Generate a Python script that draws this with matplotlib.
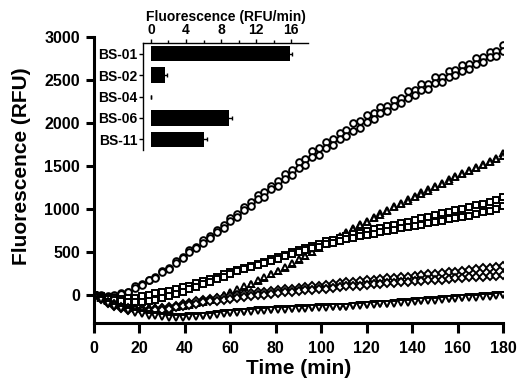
import numpy as np
import matplotlib
matplotlib.use("Agg")
import matplotlib.pyplot as plt
from matplotlib.ticker import MultipleLocator

plt.rcParams['font.family'] = ['Liberation Sans', 'DejaVu Sans']
plt.rcParams['font.weight'] = 'bold'

# time points (min), one reading every 3 min
time_min = list(range(0, 181, 3))

# BS-01 (circles), two replicates
circ_a = [0, -5, -25, -10, 15, 35, 95, 120, 175, 210, 275, 315, 395, 440, 515, 560, 640, 680, 755, 810,
          895, 940, 1025, 1080, 1155, 1195, 1270, 1325, 1410, 1455, 1540, 1585, 1670, 1705, 1780, 1815,
          1885, 1915, 1995, 2020, 2095, 2110, 2185, 2200, 2270, 2290, 2370, 2380, 2450, 2455, 2530, 2540,
          2610, 2615, 2680, 2690, 2760, 2765, 2830, 2835, 2910]
circ_b = [0, -20, -20, -30, 5, 25, 75, 110, 165, 195, 260, 300, 365, 425, 495, 540, 605, 660, 725, 780,
          855, 905, 985, 1030, 1110, 1140, 1225, 1260, 1350, 1390, 1475, 1510, 1600, 1630, 1710, 1740,
          1810, 1845, 1910, 1945, 2010, 2050, 2110, 2140, 2200, 2230, 2290, 2320, 2380, 2400, 2460, 2480,
          2540, 2560, 2610, 2630, 2690, 2710, 2770, 2780, 2840]

# up triangles, two replicates
tri_a = [0, -40, -75, -95, -115, -130, -145, -155, -160, -160, -165, -155, -145, -135, -120, -100, -85,
         -60, -40, -10, 20, 50, 85, 120, 155, 190, 235, 275, 315, 360, 400, 450, 495, 545, 590, 630, 680,
         725, 775, 820, 860, 905, 945, 990, 1030, 1070, 1110, 1145, 1190, 1225, 1260, 1300, 1345, 1380,
         1415, 1450, 1485, 1520, 1560, 1590, 1650]
tri_b = [0, -30, -60, -85, -100, -120, -135, -140, -150, -150, -150, -145, -140, -125, -110, -95, -75,
         -55, -30, 0, 30, 60, 95, 125, 165, 200, 240, 280, 325, 365, 410, 455, 500, 540, 585, 625, 670,
         715, 760, 805, 850, 895, 930, 975, 1015, 1055, 1095, 1135, 1175, 1210, 1250, 1285, 1325, 1365,
         1400, 1440, 1475, 1510, 1545, 1580, 1610]

# squares, two replicates
sq_a = [0, -20, -35, -45, -50, -45, -35, -20, 0, 15, 30, 45, 65, 85, 105, 130, 155, 180, 205, 235,
        260, 285, 310, 335, 360, 385, 415, 440, 465, 495, 520, 545, 570, 595, 620, 640, 660, 685, 705,
        720, 745, 760, 780, 800, 815, 835, 850, 870, 890, 905, 925, 945, 965, 985, 1000, 1020, 1040,
        1060, 1080, 1100, 1140]
sq_b = [0, -30, -50, -65, -80, -85, -90, -85, -75, -60, -40, -20, 5, 30, 60, 90, 120, 150, 180, 210,
        240, 270, 295, 320, 345, 370, 395, 420, 445, 470, 495, 515, 540, 560, 585, 605, 625, 645, 660,
        680, 695, 710, 725, 740, 755, 770, 785, 800, 815, 830, 845, 860, 875, 890, 905, 920, 940, 960,
        975, 995, 1030]

# diamonds, two replicates
dia_a = [0, -45, -85, -115, -140, -155, -170, -170, -175, -165, -160, -145, -130, -110, -95, -75, -60,
         -50, -40, -30, -20, -10, 5, 15, 25, 35, 45, 55, 60, 70, 80, 90, 100, 105, 115, 125, 135, 145,
         150, 160, 170, 175, 185, 190, 195, 205, 210, 215, 225, 235, 240, 250, 260, 265, 280, 285, 295,
         305, 310, 320, 335]
dia_b = [0, -55, -95, -130, -155, -175, -185, -190, -190, -185, -175, -165, -150, -135, -120, -105, -90,
         -80, -70, -60, -50, -40, -30, -20, -10, 0, 10, 15, 25, 35, 40, 50, 55, 65, 70, 80, 85, 95, 100,
         105, 115, 120, 125, 130, 135, 145, 150, 155, 160, 165, 170, 175, 180, 190, 195, 200, 205, 210,
         215, 220, 230]

# down triangles, two replicates
dn_a = [0, -50, -90, -125, -155, -180, -200, -215, -230, -240, -250, -255, -260, -260, -255, -250, -245,
        -235, -225, -215, -210, -205, -200, -190, -185, -180, -175, -170, -170, -165, -160, -160, -155,
        -150, -150, -145, -140, -140, -130, -125, -120, -115, -110, -105, -100, -90, -85, -80, -75, -65,
        -60, -55, -50, -45, -35, -30, -25, -20, -15, -10, 0]
dn_b = [0, -60, -105, -140, -170, -195, -215, -230, -245, -255, -265, -270, -275, -270, -265, -260, -255,
        -245, -240, -230, -220, -215, -205, -200, -195, -190, -185, -180, -175, -170, -170, -165, -160,
        -160, -155, -150, -145, -140, -135, -130, -125, -120, -115, -110, -105, -100, -95, -90, -80, -75,
        -70, -60, -55, -50, -45, -40, -35, -30, -25, -20, -10]

# inset: initial rates
strains = ["BS-01", "BS-02", "BS-04", "BS-06", "BS-11"]
rates = [15.8, 1.6, 0.05, 8.9, 6.1]
rate_err = [0.3, 0.2, 0.0, 0.3, 0.3]

fig = plt.figure(figsize=(5.22, 3.9), dpi=100)
ax = fig.add_axes([0.180, 0.172, 0.784, 0.733])

series = [(circ_a, 'o'), (circ_b, 'o'), (tri_a, '^'), (tri_b, '^'), (sq_a, 's'), (sq_b, 's'),
          (dia_a, 'D'), (dia_b, 'D'), (dn_a, 'v'), (dn_b, 'v')]
for vals, mk in series:
    ms = 4.8 if mk != 'D' else 4.0
    ax.plot(time_min, vals, linestyle='none', marker=mk, ms=ms, mfc='white', mec='black', mew=1.4)

ax.set_xlim(0, 180)
ax.set_ylim(-330, 3000)
ax.xaxis.set_major_locator(MultipleLocator(20))
ax.yaxis.set_major_locator(MultipleLocator(500))
for s in ['top', 'right']:
    ax.spines[s].set_visible(False)
for s in ['left', 'bottom']:
    ax.spines[s].set_linewidth(2.2)
ax.tick_params(direction='out', length=6, width=2.2, labelsize=11.5, pad=4)
ax.tick_params(axis='x', length=7, pad=6)
for lab in ax.get_xticklabels() + ax.get_yticklabels():
    lab.set_fontweight('bold')
ax.set_xlabel("Time (min)", fontsize=15, fontweight='bold', labelpad=2)
ax.set_ylabel("Fluorescence (RFU)", fontsize=15, fontweight='bold')
ax.yaxis.set_label_coords(-0.155, 0.55)

# inset bar chart
ins = fig.add_axes([0.274, 0.615, 0.316, 0.275])
ins.set_facecolor('white')
ypos = np.arange(len(strains))
ins.barh(ypos, rates, height=0.72, color='black', xerr=rate_err,
         error_kw=dict(ecolor='black', elinewidth=1, capsize=1.5, capthick=1))
ins.set_ylim(len(strains) - 0.5, -0.5)
ins.set_xlim(-0.9, 17.9)
ins.set_yticks(ypos)
ins.set_yticklabels(strains)
ins.xaxis.set_major_locator(MultipleLocator(4))
ins.xaxis.set_minor_locator(MultipleLocator(2))
ins.xaxis.tick_top()
ins.xaxis.set_label_position('top')
for s in ['bottom', 'right']:
    ins.spines[s].set_visible(False)
for s in ['left', 'top']:
    ins.spines[s].set_linewidth(1.0)
ins.tick_params(axis='both', direction='out', length=3, width=1, labelsize=10, pad=1)
ins.tick_params(axis='x', which='minor', length=2, width=1)
for lab in ins.get_xticklabels() + ins.get_yticklabels():
    lab.set_fontweight('bold')
ins.set_xlabel("Fluorescence (RFU/min)", fontsize=10, fontweight='bold', labelpad=2)

fig.savefig("out.png", dpi=100)
